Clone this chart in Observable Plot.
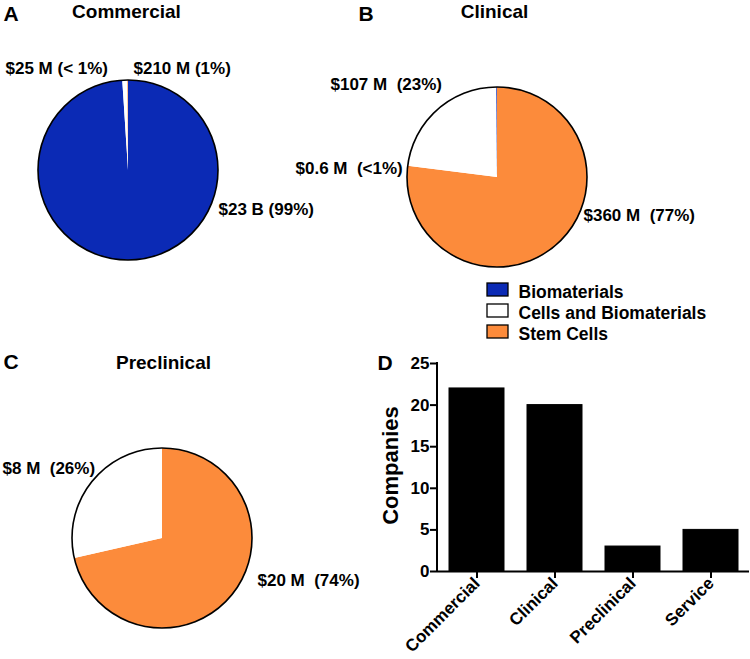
<!DOCTYPE html>
<html>
<head>
<meta charset="utf-8">
<script src="https://cdn.jsdelivr.net/npm/d3@7"></script>
<script src="https://cdn.jsdelivr.net/npm/@observablehq/plot@0.6"></script>
<style>
  html, body { margin: 0; padding: 0; background: white; }
  #wrap { position: relative; width: 750px; height: 659px; overflow: hidden; background: white; }
  #wrap svg { position: absolute; }
</style>
</head>
<body>
<div id="wrap"></div>
<script>
// ---------- data ----------
const categories = ["Biomaterials", "Cells and Biomaterials", "Stem Cells"];
const categoryColors = ["#0b2ab5", "#ffffff", "#fc8b3b"];

// funding, $ millions, in category order
const commercialValues = [23000, 210, 25];
const clinicalValues = [0.6, 107, 360];
const preclinicalValues = [0, 8, 20];

const commercialLabels = ["$23 B (99%)", "$210 M (1%)", "$25 M (< 1%)"];
const clinicalLabels = ["$0.6 M\u00a0 (<1%)", "$107 M\u00a0 (23%)", "$360 M\u00a0 (77%)"];
const preclinicalLabels = [null, "$8 M\u00a0 (26%)", "$20 M\u00a0 (74%)"];

const panelTitles = ["Commercial", "Clinical", "Preclinical"];
const panelLetters = ["A", "B", "C", "D"];

const barCategories = ["Commercial", "Clinical", "Preclinical", "Service"];
const companies = [22, 20, 3, 5];
const yTicks = [0, 5, 10, 15, 20, 25];
const yLabel = "Companies";

// ---------- layout (pixels) ----------
const FONT = "'Liberation Sans', Arial, Helvetica, sans-serif";
const pies = [
  {values: commercialValues, labels: commercialLabels, order: [0, 1, 2], cx: 128, cy: 170, r: 90,
   labelPos: [[218, 214], [133, 73], [5, 73]]},
  {values: clinicalValues, labels: clinicalLabels, order: [2, 1, 0], cx: 497, cy: 177, r: 90,
   labelPos: [[295, 173], [330, 89], [583, 220]]},
  {values: preclinicalValues, labels: preclinicalLabels, order: [2, 1, 0], cx: 162, cy: 538, r: 90,
   labelPos: [null, [2, 473], [257, 585]]}
];
const titlePos = [[126, 17], [494, 17], [163, 368]];
const letterPos = [[3, 20], [358, 20], [3, 368], [377, 369]];
const legendX = 487, legendY = 283, legendRow = 21;

// ---------- derived tables ----------
const sliceLabels = pies.flatMap(p => p.labels.map((t, i) => t && p.labelPos[i] ? {text: t, x: p.labelPos[i][0], y: p.labelPos[i][1]} : null).filter(Boolean));
const titles = panelTitles.map((t, i) => ({text: t, x: titlePos[i][0], y: titlePos[i][1]}));
const letters = panelLetters.map((t, i) => ({text: t, x: letterPos[i][0], y: letterPos[i][1]}));
const legendItems = categories.map((c, i) => ({cat: c, color: categoryColors[i], i}));
const barData = barCategories.map((c, i) => ({category: c, count: companies[i]}));

function pieMark(p) {
  return (index, scales) => {
    const cx = scales.x(p.cx), cy = scales.y(p.cy);
    const r = Math.abs(scales.x(p.cx + p.r) - cx);
    const items = p.order.map(i => ({value: p.values[i], color: categoryColors[i]}));
    const arcs = d3.pie().sort(null).value(d => d.value)(items);
    const arc = d3.arc().innerRadius(0).outerRadius(r);
    const g = d3.create("svg:g").attr("transform", `translate(${cx},${cy})`);
    g.selectAll("path").data(arcs.filter(a => a.value > 0)).join("path")
      .attr("d", arc).attr("fill", d => d.data.color);
    g.append("circle").attr("r", r).attr("fill", "none").attr("stroke", "black").attr("stroke-width", 1.6);
    return g.node();
  };
}

const overlay = Plot.plot({
  width: 750, height: 659, margin: 0,
  x: {domain: [0, 750], range: [0, 750], axis: null},
  y: {domain: [0, 659], range: [0, 659], axis: null},
  style: {fontFamily: FONT, fontWeight: "bold", color: "black", background: "white"},
  marks: [
    ...pies.map(pieMark),
    Plot.text(sliceLabels, {x: "x", y: "y", text: "text", textAnchor: "start", lineAnchor: "bottom", fontSize: 17, fontWeight: "bold", fill: "black"}),
    Plot.text(titles, {x: "x", y: "y", text: "text", textAnchor: "middle", lineAnchor: "bottom", fontSize: 19, fontWeight: "bold", fill: "black"}),
    Plot.text(letters, {x: "x", y: "y", text: "text", textAnchor: "start", lineAnchor: "bottom", fontSize: 21, fontWeight: "bold", fill: "black"}),
    Plot.rect(legendItems, {
      x1: () => legendX, x2: () => legendX + 21,
      y1: d => legendY + d.i * legendRow, y2: d => legendY + d.i * legendRow + 13,
      fill: "color", stroke: "black", strokeWidth: 1.3
    }),
    Plot.text(legendItems, {
      x: () => legendX + 31, y: d => legendY + d.i * legendRow + 14, text: "cat",
      textAnchor: "start", lineAnchor: "bottom", fontSize: 17.5, fontWeight: "bold", fill: "black"
    })
  ]
});
overlay.style.left = "0px";
overlay.style.top = "0px";

const bars = Plot.plot({
  width: 390, height: 319,
  marginLeft: 77, marginRight: 1, marginTop: 23, marginBottom: 88,
  x: {domain: barCategories, paddingInner: 0.3, paddingOuter: 0.15, label: null},
  y: {domain: [0, 25], label: null},
  style: {fontFamily: FONT, fontWeight: "bold", color: "black", background: "transparent", overflow: "visible"},
  marks: [
    Plot.barY(barData, {x: "category", y: "count", fill: "black", stroke: "black", strokeWidth: 1}),
    Plot.ruleY([0], {stroke: "black", strokeWidth: 2}),
    (index, scales, values, dims) => d3.create("svg:line")
      .attr("x1", dims.marginLeft).attr("x2", dims.marginLeft)
      .attr("y1", scales.y(25) - 1).attr("y2", scales.y(0) + 1)
      .attr("stroke", "black").attr("stroke-width", 2).node(),
    Plot.axisY({ticks: yTicks, tickSize: 7, tickPadding: 1, stroke: "black", strokeWidth: 2, label: null, fontSize: 17, fontWeight: "bold", fill: "black"}),
    Plot.axisX({tickSize: 7, tickRotate: -45, tickPadding: 2, stroke: "black", strokeWidth: 2, label: null, fontSize: 17, fontWeight: "bold", fill: "black"}),
    Plot.text([yLabel], {frameAnchor: "left", text: d => d, rotate: -90, textAnchor: "middle", lineAnchor: "middle", dx: -47, dy: -2, fontSize: 22, fontWeight: "bold", fill: "black"})
  ]
});
bars.style.left = "360px";
bars.style.top = "340px";

const wrap = document.getElementById("wrap");
wrap.appendChild(overlay);
wrap.appendChild(bars);
</script>
</body>
</html>
